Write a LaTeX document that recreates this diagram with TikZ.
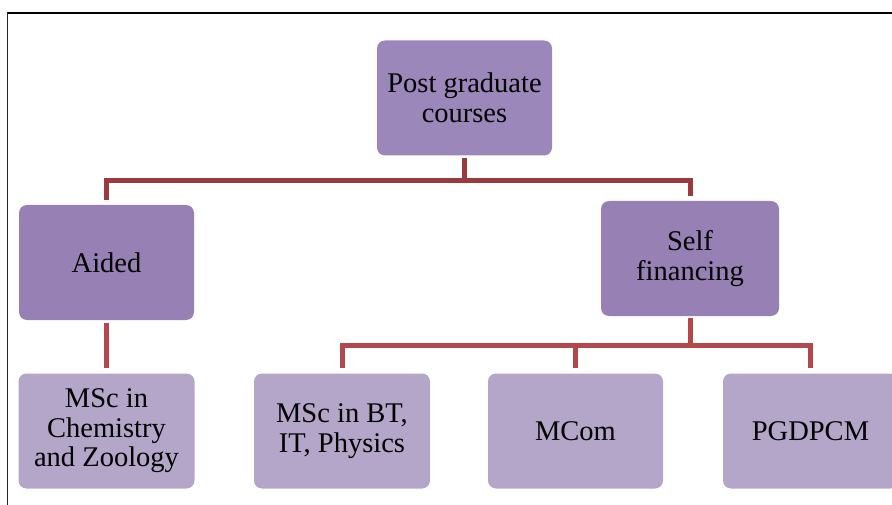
\documentclass[tikz,border=0pt]{standalone}
\usepackage{fontspec}
\setmainfont{Liberation Serif}
\usetikzlibrary{positioning}

\definecolor{rootfill}{HTML}{9C87BB}
\definecolor{midfill}{HTML}{9680B4}
\definecolor{leaffill}{HTML}{B3A6C9}
\definecolor{linkdark}{HTML}{9B3A3A}
\definecolor{linklight}{HTML}{B3474A}

\begin{document}
\begin{tikzpicture}[
    x=1pt, y=-1pt,
    box w/.store in=\boxw, box w=175pt,
    box h/.store in=\boxh, box h=115pt,
    card/.style={rounded corners=8pt, align=center, text=black,
        minimum width=\boxw, minimum height=\boxh, inner sep=0pt,
        font=\fontsize{28.5}{29.5}\selectfont},
    rootbox/.style={card, fill=rootfill},
    midbox/.style={card, fill=midfill},
    leafbox/.style={card, fill=leaffill},
    link/.style={line width=5pt, line join=miter, line cap=butt,
        shorten <=2pt, shorten >=5pt},
    upper link/.style={link, draw=linkdark},
    lower link/.style={link, draw=linklight}
]
\useasboundingbox (0,0) rectangle (892,505);

% Frame: top rule and left rule
\draw[line width=2.5pt] (7,13) -- (892,13);
\draw[line width=1pt, black!85] (7.5,12) -- (7.5,505);

% Component 1: top of the chart
\node[rootbox] (postgrad) at (464.5,98) {Post graduate\\courses};

% Component 2: the two kinds
\node[midbox] (aided) at (106.5,262.5) {Aided};
\node[midbox, minimum width=178pt] (selffin) at (690,258.5) {Self\\financing};

% Component 3: the courses
\node[leafbox, minimum width=176pt] (chem) at (106.5,431) {MSc in\\Chemistry\\and Zoology};
\node[leafbox, minimum width=176pt] (btit) at (342,431) {MSc in BT,\\IT, Physics};
\node[leafbox] (mcom) at (575.5,431) {MCom};
\node[leafbox] (pgdpcm) at (810.5,431) {PGDPCM};

% Connectors from the top box
\coordinate (bus top) at (464.5,180.5);
\draw[upper link, shorten >=0pt] (postgrad.south) -- (bus top);
\draw[upper link, shorten <=0pt] (bus top) -| (aided.north);
\draw[upper link, shorten <=0pt] (bus top) -| (selffin.north);

% Connector under Aided
\draw[lower link, shorten <=3pt] (aided.south) -- (chem.north);

% Connectors under Self financing
\coordinate (bus low) at (690,345);
\draw[lower link, shorten >=0pt] (selffin.south) -- (bus low);
\draw[lower link, shorten <=0pt] (bus low) -| (btit.north);
\draw[lower link, shorten <=0pt] (bus low) -| (mcom.north);
\draw[lower link, shorten <=0pt] (bus low) -| (pgdpcm.north);

\end{tikzpicture}
\end{document}
